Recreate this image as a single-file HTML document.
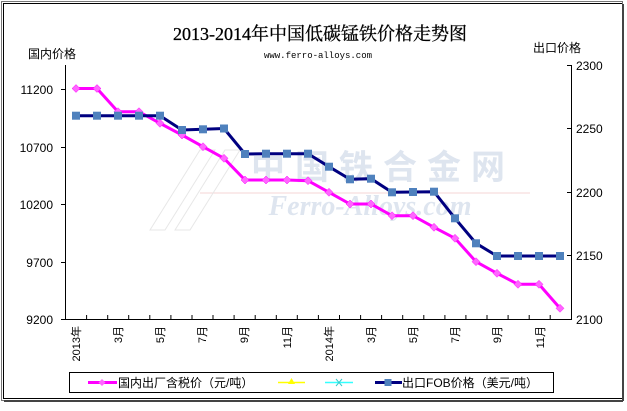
<!DOCTYPE html>
<html><head><meta charset="utf-8"><style>
html,body{margin:0;padding:0;background:#fff;}
</style></head><body>
<svg width="627" height="406" viewBox="0 0 627 406" xmlns="http://www.w3.org/2000/svg" font-family="Liberation Sans, Noto Sans CJK SC, sans-serif">
<rect x="0" y="0" width="627" height="406" fill="#fff"/>
<rect x="3.5" y="3.5" width="619" height="395" fill="none" stroke="#000" stroke-width="1"/>
<rect x="1.5" y="1.5" width="621" height="399" fill="none" stroke="#777" stroke-width="1"/>
<line x1="4" y1="401" x2="623" y2="401" stroke="#444" stroke-width="2"/>
<line x1="623" y1="4" x2="623" y2="401" stroke="#444" stroke-width="2"/>
<!-- watermark -->
<g opacity="0.6">
<text x="383" y="179" text-anchor="middle" font-size="34" font-weight="bold" fill="#c9d4e6" font-family="Noto Sans CJK SC, sans-serif" letter-spacing="10">中国铁合金网</text>
<line x1="200" y1="193" x2="530" y2="193" stroke="#f0b8b8" stroke-width="1"/>
<text x="370" y="215" text-anchor="middle" font-size="28" font-weight="bold" font-style="italic" fill="#c9d4e6" font-family="Liberation Serif, serif">Ferro-Alloys.com</text>
<path d="M150 230 L200 150 L215 150 L165 230 Z M175 230 L225 150 L240 150 L190 230 Z" fill="none" stroke="#d8d8d8"/>
</g>
<text x="320" y="40" text-anchor="middle" font-size="18" font-family="Liberation Serif, Noto Serif CJK SC, serif" stroke="#000" stroke-width="0.3">2013-2014年中国低碳锰铁价格走势图</text>
<text x="318" y="58" text-anchor="middle" font-size="9" font-family="Liberation Mono, monospace">www.ferro-alloys.com</text>
<text x="28" y="58" font-size="12">国内价格</text>
<text x="533" y="52" font-size="12">出口价格</text>
<!-- axes -->
<g stroke="#000" stroke-width="1">
<line x1="65.5" y1="65" x2="65.5" y2="319.5"/>
<line x1="65" y1="319.5" x2="572" y2="319.5"/>
<line x1="571.5" y1="65" x2="571.5" y2="319.5"/>
<line x1="61" y1="89.5" x2="65" y2="89.5"/><line x1="61" y1="147.5" x2="65" y2="147.5"/><line x1="61" y1="204.5" x2="65" y2="204.5"/><line x1="61" y1="262.5" x2="65" y2="262.5"/><line x1="61" y1="319.5" x2="65" y2="319.5"/>
<line x1="567" y1="65.5" x2="571" y2="65.5"/><line x1="567" y1="128.5" x2="571" y2="128.5"/><line x1="567" y1="192.5" x2="571" y2="192.5"/><line x1="567" y1="255.5" x2="571" y2="255.5"/>
<path d="M86.6 319v-4M107.7 319v-4M128.7 319v-4M149.8 319v-4M170.9 319v-4M192 319v-4M213 319v-4M234.1 319v-4M255.2 319v-4M276.3 319v-4M297.3 319v-4M318.4 319v-4M339.5 319v-4M360.6 319v-4M381.6 319v-4M402.7 319v-4M423.8 319v-4M444.9 319v-4M465.9 319v-4M487 319v-4M508.1 319v-4M529.2 319v-4M550.2 319v-4"/>
</g>
<g font-size="12" text-anchor="end">
<text x="53" y="94">11200</text><text x="53" y="152">10700</text><text x="53" y="209">10200</text><text x="53" y="267">9700</text><text x="53" y="324">9200</text>
</g>
<g font-size="12">
<text x="576" y="70">2300</text><text x="576" y="133">2250</text><text x="576" y="197">2200</text><text x="576" y="260">2150</text><text x="576" y="324">2100</text>
</g>
<g font-size="11" text-anchor="end">
<text transform="translate(80,326) rotate(-90)">2013年</text>
<text transform="translate(122,326) rotate(-90)">3月</text>
<text transform="translate(164,326) rotate(-90)">5月</text>
<text transform="translate(206,326) rotate(-90)">7月</text>
<text transform="translate(248,326) rotate(-90)">9月</text>
<text transform="translate(291,326) rotate(-90)">11月</text>
<text transform="translate(333,326) rotate(-90)">2014年</text>
<text transform="translate(375,326) rotate(-90)">3月</text>
<text transform="translate(417,326) rotate(-90)">5月</text>
<text transform="translate(459,326) rotate(-90)">7月</text>
<text transform="translate(501,326) rotate(-90)">9月</text>
<text transform="translate(544,326) rotate(-90)">11月</text>
</g>
<!-- pink series -->
<polyline fill="none" stroke="#ff00ff" stroke-width="3" points="76,88.5 97,88.5 118,111.7 139,111.7 160,123.3 182,135 203,146.7 224,158.3 245,180 266,180 287,180 308,180.7 329,192.3 350,204 371,204 392,215.7 413,215.7 434,227.3 455,238.3 476,261.7 497,273.3 518,284.3 539,284.3 560,308.3"/>
<g fill="#ff66ff" stroke="#ff00ff" stroke-width="0.5">
<path d="M76 84.5l4 4-4 4-4-4zM97 84.5l4 4-4 4-4-4zM118 107.7l4 4-4 4-4-4zM139 107.7l4 4-4 4-4-4zM160 119.3l4 4-4 4-4-4zM182 131l4 4-4 4-4-4zM203 142.7l4 4-4 4-4-4zM224 154.3l4 4-4 4-4-4zM245 176l4 4-4 4-4-4zM266 176l4 4-4 4-4-4zM287 176l4 4-4 4-4-4zM308 176.7l4 4-4 4-4-4zM329 188.3l4 4-4 4-4-4zM350 200l4 4-4 4-4-4zM371 200l4 4-4 4-4-4zM392 211.7l4 4-4 4-4-4zM413 211.7l4 4-4 4-4-4zM434 223.3l4 4-4 4-4-4zM455 234.3l4 4-4 4-4-4zM476 257.7l4 4-4 4-4-4zM497 269.3l4 4-4 4-4-4zM518 280.3l4 4-4 4-4-4zM539 280.3l4 4-4 4-4-4zM560 304.3l4 4-4 4-4-4z"/>
</g>
<!-- blue series -->
<polyline fill="none" stroke="#000080" stroke-width="3" points="76,115.7 97,115.7 118,115.7 139,115.7 160,115.7 182,130 203,129.3 224,128.5 245,154 266,153.7 287,153.7 308,153.7 329,166.7 350,179.3 371,178.7 392,192.3 413,192 434,191.7 455,218.3 476,243.3 497,256 518,256 539,256 560,256"/>
<g fill="#4f81bd">
<rect x="72" y="111.7" width="8" height="8"/><rect x="93" y="111.7" width="8" height="8"/><rect x="114" y="111.7" width="8" height="8"/><rect x="135" y="111.7" width="8" height="8"/><rect x="156" y="111.7" width="8" height="8"/><rect x="178" y="126" width="8" height="8"/><rect x="199" y="125.3" width="8" height="8"/><rect x="220" y="124.5" width="8" height="8"/><rect x="241" y="150" width="8" height="8"/><rect x="262" y="149.7" width="8" height="8"/><rect x="283" y="149.7" width="8" height="8"/><rect x="304" y="149.7" width="8" height="8"/><rect x="325" y="162.7" width="8" height="8"/><rect x="346" y="175.3" width="8" height="8"/><rect x="367" y="174.7" width="8" height="8"/><rect x="388" y="188.3" width="8" height="8"/><rect x="409" y="188" width="8" height="8"/><rect x="430" y="187.7" width="8" height="8"/><rect x="451" y="214.3" width="8" height="8"/><rect x="472" y="239.3" width="8" height="8"/><rect x="493" y="252" width="8" height="8"/><rect x="514" y="252" width="8" height="8"/><rect x="535" y="252" width="8" height="8"/><rect x="556" y="252" width="8" height="8"/>
</g>
<!-- legend -->
<rect x="69.5" y="372.5" width="484" height="20" fill="#fff" stroke="#000"/>
<line x1="88" y1="382.5" x2="117" y2="382.5" stroke="#ff00ff" stroke-width="3"/>
<path d="M102 379l3.5 3.5-3.5 3.5-3.5-3.5z" fill="#ff66ff"/>
<text x="118" y="387" font-size="12">国内出厂含税价（元/吨）</text>
<line x1="278" y1="382.5" x2="305" y2="382.5" stroke="#ffff00" stroke-width="1.5"/>
<path d="M291.5 378l3.5 6h-7z" fill="#ffff00"/>
<line x1="325" y1="382.5" x2="353" y2="382.5" stroke="#33ffff" stroke-width="1.5"/>
<path d="M336 379l6 7M342 379l-6 7" stroke="#33cccc" stroke-width="1"/>
<line x1="375" y1="382.5" x2="402" y2="382.5" stroke="#000080" stroke-width="3"/>
<rect x="384.5" y="379" width="7" height="7" fill="#4f81bd"/>
<text x="402" y="387" font-size="12">出口FOB价格（美元/吨）</text>
</svg>
</body></html>
